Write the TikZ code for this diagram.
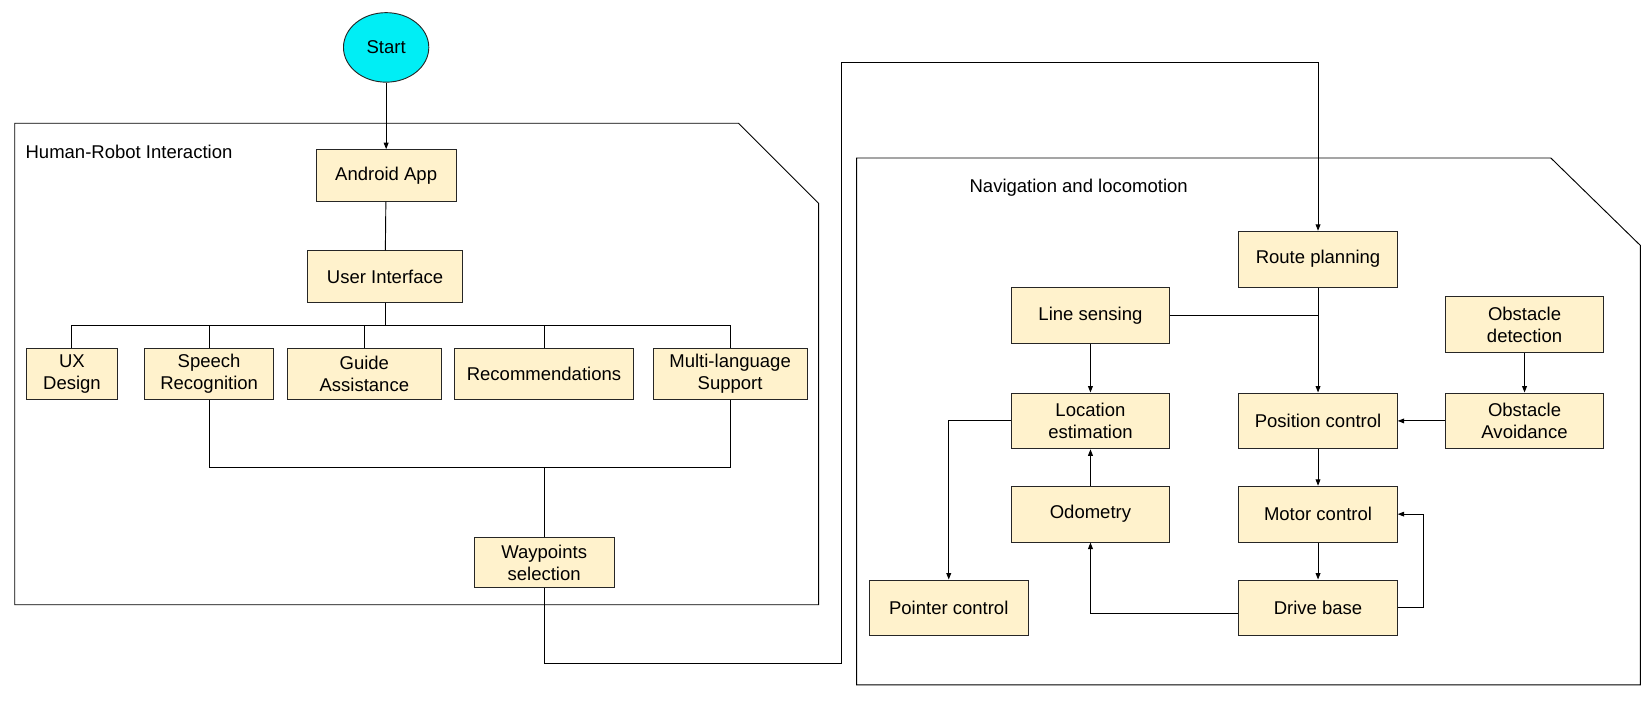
\documentclass[tikz,border=0pt]{standalone}
\usepackage{fontspec}
\setmainfont{Liberation Sans}
\usetikzlibrary{arrows.meta,shapes.geometric}
\definecolor{boxfill}{RGB}{255,242,204}
\definecolor{startfill}{RGB}{0,238,245}
\begin{document}
\begin{tikzpicture}[x=0.02cm,y=-0.02cm,line width=0.5pt,
  font=\fontsize{10}{12}\selectfont,
  box/.style={draw=black!85, fill=boxfill, align=center, inner sep=1pt, minimum height=0.98cm},
  navbox/.style={box, minimum width=3.01cm, minimum height=1.06cm},
  arr/.style={-{Triangle[length=3.5pt,width=2.6pt]}}]
\useasboundingbox (0,0) rectangle (1568,669);
\draw (14,117) -- (701,117) -- (777,193) -- (777,574) -- (14,574) -- cycle;
\draw (813,150) -- (1472,150) -- (1557,233) -- (1557,650) -- (813,650) -- cycle;
\node [anchor=west] (hri) at (18,144) {Human-Robot Interaction};
\node [anchor=west] (nav) at (914,178) {Navigation and locomotion};
\node [ellipse, draw=black!85, fill=startfill, minimum width=1.62cm, minimum height=1.32cm] (start) at (366.5,45) {Start};
\node [box, minimum width=2.66cm] (android) at (366.5,166.5) {Android App};
\node [box, minimum width=2.94cm] (ui) at (365.5,262.5) {User Interface};
\node [box, minimum width=1.73cm, minimum height=0.96cm] (ux) at (68.3,355) {UX\\Design};
\node [box, minimum width=2.46cm, minimum height=0.96cm] (speech) at (198.5,355) {Speech\\Recognition};
\node [box, minimum width=2.91cm, minimum height=0.96cm] (guide) at (345.8,355) {Guide\\Assistance};
\node [box, minimum width=3.41cm, minimum height=0.96cm] (recom) at (516.3,355) {Recommendations};
\node [box, minimum width=2.92cm, minimum height=0.96cm] (multi) at (693,355) {Multi-language\\Support};
\node [box, minimum width=2.66cm, minimum height=0.96cm] (waypts) at (516.5,534) {Waypoints\\selection};
\node [navbox] (route) at (1251,246) {Route planning};
\node [navbox] (linesens) at (1035,299.5) {Line sensing};
\node [navbox] (obsdet) at (1447,308) {Obstacle\\detection};
\node [navbox] (locest) at (1035,399.5) {Location\\estimation};
\node [navbox] (pos) at (1251,399.5) {Position control};
\node [navbox] (obsavoid) at (1447,399.5) {Obstacle\\Avoidance};
\node [navbox] (odom) at (1035,488) {Odometry};
\node [navbox] (motor) at (1251,488) {Motor control};
\node [navbox] (pointer) at (900.5,577) {Pointer control};
\node [navbox] (drive) at (1251,577) {Drive base};
\coordinate (bus) at (366,309);
\coordinate (join) at (516.5,444);
\coordinate (loopA) at (798.5,630);
\coordinate (loopB) at (798.5,59);
\draw [arr] (start) -- (android);
\draw (android) -- (ui);
\foreach \n in {ux,speech,guide,recom,multi}
  \draw (ui.south) |- (\n.north |- bus) -- (\n.north);
\draw (speech.south) |- (join) -| (multi.south);
\draw (join) -- (waypts.north);
\draw [arr] (waypts.south) |- (loopA) -- (loopB) -| (route.north);
\draw [arr] (route) -- (pos);
\draw (linesens.east) -- (linesens.east -| route.south);
\draw [arr] (linesens) -- (locest);
\draw [arr] (obsdet) -- (obsavoid);
\draw [arr] (obsavoid) -- (pos);
\draw [arr] (pos) -- (motor);
\draw [arr] (motor) -- (drive);
\draw [arr] (drive.east) -- ++(24,0) |- (motor.east);
\draw [arr] ([yshift=-0.1cm]drive.west) -| (odom.south);
\draw [arr] (odom) -- (locest);
\draw [arr] (locest.west) -| (pointer.north);
\end{tikzpicture}
\end{document}
